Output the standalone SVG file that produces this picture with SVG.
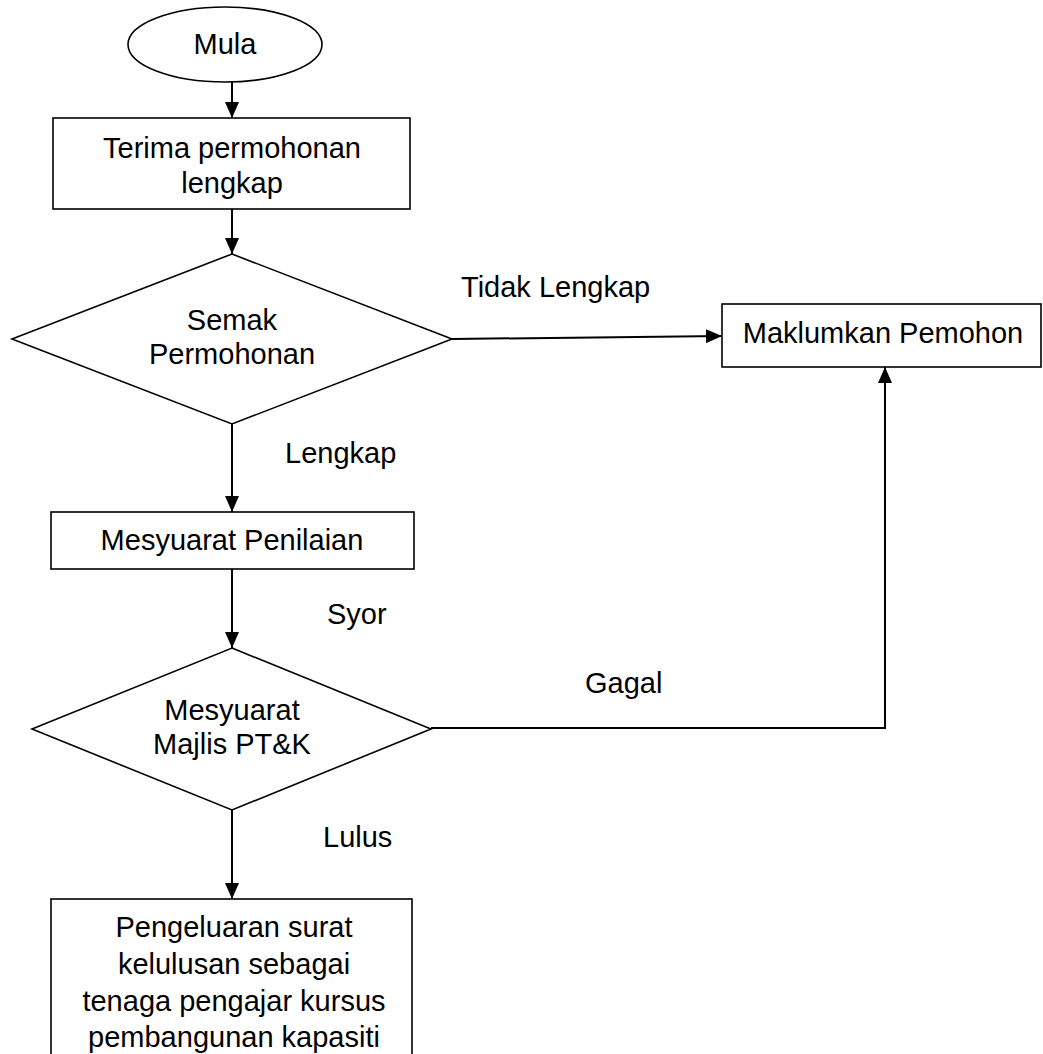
<svg xmlns="http://www.w3.org/2000/svg" width="1043" height="1054" viewBox="0 0 1043 1054">
<style>
.shape{fill:#fff;stroke:#000;stroke-width:1.6}
.conn{fill:none;stroke:#000;stroke-width:2}
text{font-family:"Liberation Sans",Arial,sans-serif;font-size:29px;fill:#000}
.c{text-anchor:middle}
</style>
<defs>
<marker id="ah" markerWidth="16" markerHeight="14" refX="16" refY="7" orient="auto" markerUnits="userSpaceOnUse">
<path d="M0,0 L16,7 L0,14 Z" fill="#000"/>
</marker>
</defs>
<rect width="1043" height="1054" fill="#fff"/>
<g id="connectors">
<line class="conn" x1="232" y1="82" x2="232" y2="118" marker-end="url(#ah)"/>
<line class="conn" x1="232" y1="209" x2="232" y2="254" marker-end="url(#ah)"/>
<line class="conn" x1="452" y1="339" x2="722" y2="336" marker-end="url(#ah)"/>
<line class="conn" x1="232" y1="424" x2="232" y2="512" marker-end="url(#ah)"/>
<line class="conn" x1="232" y1="569" x2="232" y2="648" marker-end="url(#ah)"/>
<polyline class="conn" points="431,728 885,728 885,367" marker-end="url(#ah)"/>
<line class="conn" x1="232" y1="810" x2="232" y2="899" marker-end="url(#ah)"/>
<text x="461" y="297">Tidak Lengkap</text>
<text x="285" y="463">Lengkap</text>
<text x="327" y="624">Syor</text>
<text x="585" y="693">Gagal</text>
<text x="323" y="847">Lulus</text>
</g>
<g id="mula">
<ellipse class="shape" cx="225" cy="44.5" rx="97" ry="37.5"/>
<text class="c" x="225" y="54">Mula</text>
</g>
<g id="terima">
<rect class="shape" x="53" y="118" width="357" height="91"/>
<text class="c" x="232" y="158">Terima permohonan</text>
<text class="c" x="232" y="193">lengkap</text>
</g>
<g id="semak">
<polygon class="shape" points="232,254 452,339 232,424 12,339"/>
<text class="c" x="232" y="330">Semak</text>
<text class="c" x="232" y="364">Permohonan</text>
</g>
<g id="maklumkan">
<rect class="shape" x="722" y="304" width="319" height="63"/>
<text class="c" x="883" y="343">Maklumkan Pemohon</text>
</g>
<g id="penilaian">
<rect class="shape" x="51" y="512" width="363" height="57"/>
<text class="c" x="232" y="550">Mesyuarat Penilaian</text>
</g>
<g id="majlis">
<polygon class="shape" points="232,648 431,729 232,810 32,729"/>
<text class="c" x="232" y="720">Mesyuarat</text>
<text class="c" x="232" y="754">Majlis PT&amp;K</text>
</g>
<g id="pengeluaran">
<rect class="shape" x="51" y="899" width="361" height="170"/>
<text class="c" x="234" y="937">Pengeluaran surat</text>
<text class="c" x="234" y="974">kelulusan sebagai</text>
<text class="c" x="234" y="1011">tenaga pengajar kursus</text>
<text class="c" x="234" y="1047">pembangunan kapasiti</text>
</g>
</svg>
